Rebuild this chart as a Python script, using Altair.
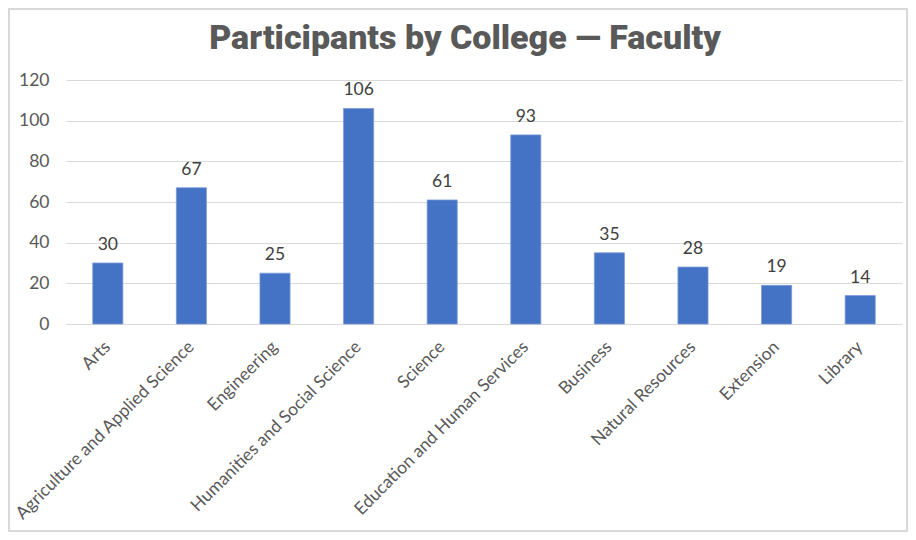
import altair as alt
import pandas as pd

colleges = ["Arts", "Agriculture and Applied Science", "Engineering",
            "Humanities and Social Science", "Science",
            "Education and Human Services", "Business",
            "Natural Resources", "Extension", "Library"]
participants = [30, 67, 25, 106, 61, 93, 35, 28, 19, 14]

df = pd.DataFrame({"college": colleges, "n": participants})

W, H = 836, 244
PL, PT, PR, PB = 58, 72, 6, 208
FS = 17.5

x = alt.X("college:N", sort=colleges, title=None,
          scale=alt.Scale(paddingInner=0.64, paddingOuter=0.32),
          axis=alt.Axis(labelAngle=-45, labelAlign="right", labelBaseline="middle",
                        labelFont="Lato", labelFontSize=FS, labelColor="#595959",
                        labelPadding=20, ticks=False, domain=True,
                        domainColor="#d9d9d9", labelLimit=400))
y = alt.Y("n:Q", title=None,
          scale=alt.Scale(domain=[0, 120]),
          axis=alt.Axis(values=[0, 20, 40, 60, 80, 100, 120], grid=True,
                        gridColor="#d9d9d9", domain=False, ticks=False,
                        labelFont="Lato", labelFontSize=FS, labelColor="#595959",
                        labelPadding=17))

bars = alt.Chart(df).mark_bar(color="#4472C4", stroke="#7b9ad6", strokeWidth=0.8).encode(x=x, y=y)
labels = alt.Chart(df).mark_text(dy=-18, font="Lato", fontSize=FS, color="#404040").encode(
    x=alt.X("college:N", sort=colleges), y="n:Q", text="n:Q")

border = alt.Chart(df).mark_rect(fill=None, stroke="#d9d9d9", strokeWidth=1.5, clip=False).encode(
    x=alt.value(-PL + 1), x2=alt.value(W + PR - 1), y=alt.value(-PT + 1), y2=alt.value(H + PB - 1))

chart = alt.layer(border, bars, labels).properties(
    width=W, height=H,
    title=alt.TitleParams("Participants by College — Faculty", font="Roboto",
                          fontSize=34, fontWeight=900, color="#595959",
                          anchor="middle", offset=-48, dx=-19),
    padding={"left": PL, "top": PT, "right": PR, "bottom": PB},
    autosize=alt.AutoSizeParams(type="none"),
).configure_view(stroke=None)

chart.save("out.html", embed_options={"renderer": "svg", "actions": False})
